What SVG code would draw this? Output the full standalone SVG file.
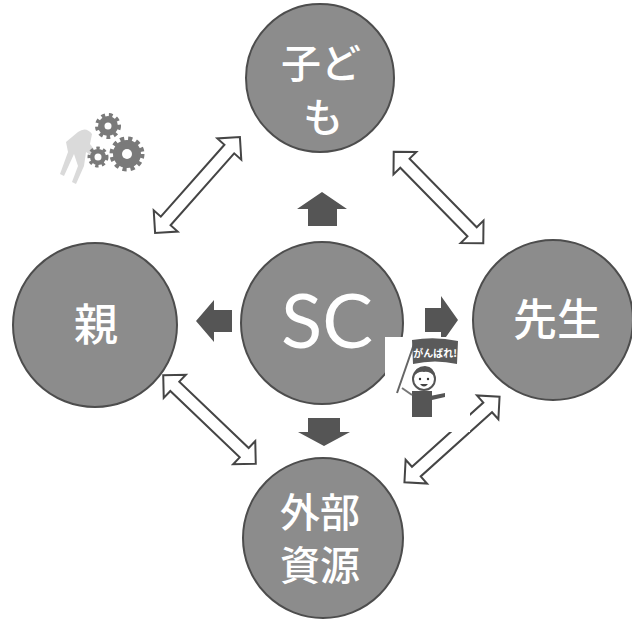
<svg xmlns="http://www.w3.org/2000/svg" xmlns:xlink="http://www.w3.org/1999/xlink" width="632" height="621" viewBox="0 0 632 621">
  <style>
    .node { fill: #8c8c8c; stroke: #4d4d4d; stroke-width: 2; }
    .jp { fill: #ffffff; font-family: "Noto Sans CJK JP", "Noto Sans", sans-serif; font-weight: 500; text-anchor: middle; }
    .sc { fill: #ffffff; font-family: Lato, "Noto Sans", sans-serif; font-weight: 400; text-anchor: middle; }
    .dbl { fill: #ffffff; stroke: #454545; stroke-width: 2; stroke-linejoin: miter; }
    .block { fill: #555555; }
    .gear { fill: #7a7a7a; stroke: #7a7a7a; }
  </style>
  <defs>
    <!-- double-headed outline arrow, 128 long, centred on the origin -->
    <path id="dblArrow" class="dbl" d="M-64,0 L-48,-16 L-48,-6.5 L48,-6.5 L48,-16 L64,0 L48,16 L48,6.5 L-48,6.5 L-48,16 Z"/>
  </defs>

  <rect width="632" height="621" fill="#ffffff"/>

  <!-- gears illustration -->
  <g id="gears">
    <path d="M78,132 q8,-6 14,2 l-2,10 l6,8 l-4,4 l-6,-4 l-2,14 l-8,18 l-4,-2 l6,-16 l-4,-12 l-10,22 l-4,-2 l8,-22 l-2,-10 z" fill="#dadada"/>
    <g class="gear">
      <circle cx="108" cy="126" r="10" stroke-width="6" stroke-dasharray="3.4 3.4"/>
      <circle cx="108" cy="126" r="3.5" fill="#ffffff" stroke="none"/>
      <circle cx="127" cy="154" r="14" stroke-width="7" stroke-dasharray="3.8 3.6"/>
      <circle cx="127" cy="154" r="5" fill="#ffffff" stroke="none"/>
      <circle cx="98" cy="157" r="8" stroke-width="5" stroke-dasharray="3 3"/>
      <circle cx="98" cy="157" r="3.5" fill="#ffffff" stroke="none"/>
    </g>
  </g>

  <!-- connectors -->
  <g id="connectors">
    <use xlink:href="#dblArrow" href="#dblArrow" transform="translate(197.5,185) rotate(-48.5)"/>
    <use xlink:href="#dblArrow" href="#dblArrow" transform="translate(438.5,197.5) rotate(45.6)"/>
    <use xlink:href="#dblArrow" href="#dblArrow" transform="translate(209.5,419.5) rotate(43.7)"/>
    <use xlink:href="#dblArrow" href="#dblArrow" transform="translate(452,439.5) rotate(-42)"/>
    <polygon class="block" points="322,192 347,209 337,209 337,226 308,226 308,209 297,209"/>
    <polygon class="block" points="308,418 340,418 340,432 350,432 324,446 298,432 308,432"/>
    <polygon class="block" points="196,321 214,300 214,310 232,310 232,332 214,332 214,342"/>
    <polygon class="block" points="425,308 441,308 441,296 458,320 441,344 441,332 425,332"/>
  </g>

  <g id="node-kodomo">
    <circle class="node" cx="320" cy="78" r="74"/>
    <text class="jp" x="321" y="78" font-size="40">子ど</text>
    <text class="jp" x="323" y="132" font-size="40">も</text>
  </g>

  <g id="node-oya">
    <circle class="node" cx="95" cy="325" r="82"/>
    <text class="jp" x="96" y="341" font-size="44">親</text>
  </g>

  <g id="node-sc">
    <circle class="node" cx="322" cy="323" r="81"/>
    <text class="sc" x="327" y="348" font-size="76">SC</text>
  </g>

  <g id="node-sensei">
    <circle class="node" cx="553" cy="320" r="80"/>
    <text class="jp" x="557" y="336" font-size="44">先生</text>
  </g>

  <g id="node-gaibu">
    <circle class="node" cx="323" cy="538" r="80"/>
    <text class="jp" x="320" y="527" font-size="40">外部</text>
    <text class="jp" x="320" y="580" font-size="40">資源</text>
  </g>

  <!-- cheering figure with flag -->
  <g id="cheer">
    <rect x="385" y="337" width="85" height="95" fill="#ffffff"/>
    <line x1="397" y1="393" x2="414" y2="344" stroke="#666666" stroke-width="2"/>
    <path d="M412,340 Q435,336 458,341 L457,364 Q435,359 413,364 Z" fill="#5a5a5a"/>
    <text x="435" y="357" font-family="Noto Sans CJK JP, sans-serif" font-size="10" font-weight="700" fill="#ffffff" text-anchor="middle">がんばれ!</text>
    <rect x="412" y="391" width="20" height="26" fill="#555555"/>
    <path d="M430,396 L445,393 L445,397 L432,400 Z" fill="#555555"/>
    <circle cx="424" cy="379" r="11" fill="#ffffff" stroke="#555555" stroke-width="2"/>
    <path d="M413,377 Q415,366 425,366 Q435,367 435,377 Q430,371 424,372 Q418,371 413,377 Z" fill="#555555"/>
    <circle cx="420" cy="379" r="1.2" fill="#333333"/>
    <circle cx="428" cy="379" r="1.2" fill="#333333"/>
    <path d="M420,384 Q424,389 428,384 Z" fill="#444444"/>
    <path d="M412,395 L402,388" stroke="#777777" stroke-width="2"/>
  </g>
</svg>
